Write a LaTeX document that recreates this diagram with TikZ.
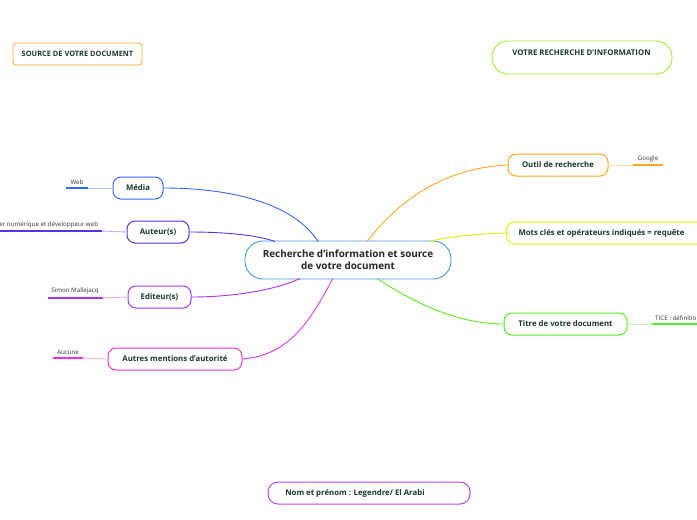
\documentclass[tikz,border=0pt]{standalone}
\usepackage{fontspec}
\setmainfont{Open Sans}
\begin{document}
\begin{tikzpicture}[x=1pt,y=-1pt,
  txt/.style={text=textc,font=\bfseries\fontsize{7.8}{9}\selectfont},
  topic/.style={draw=#1,line width=1pt,rounded corners=8pt,fill=white,inner sep=0pt,txt,minimum height=22pt},
  lab/.style={font=\fontsize{6.2}{7}\selectfont,text=black!80,inner sep=0pt,anchor=south},
  ul/.style={fill=#1,draw=none,inner sep=0pt,minimum height=2pt,outer sep=0pt},
  conn/.style={color=#1,line width=0.9pt}]
\definecolor{textc}{HTML}{17382E}
\definecolor{cblue}{HTML}{3D9AD9}
\definecolor{cmedia}{HTML}{3366FF}
\definecolor{cauteur}{HTML}{5533EE}
\definecolor{cedit}{HTML}{AA33EE}
\definecolor{cautres}{HTML}{EE33DD}
\definecolor{coutil}{HTML}{FFA522}
\definecolor{cmots}{HTML}{DDEE11}
\definecolor{ctitre}{HTML}{55EE22}
\definecolor{cvotre}{HTML}{99EE33}
\definecolor{cnom}{HTML}{BB44EE}
\useasboundingbox (0,0) rectangle (697,520);

% header boxes
\node[draw=coutil,line width=0.8pt,rounded corners=3pt,minimum width=129pt,minimum height=22pt,inner sep=0pt,
  text=textc,font=\bfseries\fontsize{7.4}{8}\selectfont] (src) at (77.5,54) {SOURCE DE VOTRE DOCUMENT};
\node[draw=cvotre,line width=0.9pt,rounded corners=16pt,minimum width=180pt,minimum height=33pt,inner sep=0pt] (votre) at (582,57.5) {};
\node[text=textc,font=\bfseries\fontsize{7.8}{8}\selectfont,inner sep=0pt] (votret) at (581.5,53) {VOTRE RECHERCHE D'INFORMATION};

% center
\node[draw=cblue,line width=0.9pt,rounded corners=18pt,minimum width=206pt,minimum height=38pt,fill=white,
  align=center,text=black!85,font=\bfseries\fontsize{9.9}{12.5}\selectfont,inner sep=0pt] (c) at (348,260)
  {Recherche d'information et source\\de votre document};

% left topics
\node[topic=cmedia,minimum width=50pt] (media) at (138,188) {Média};
\node[topic=cauteur,minimum width=62pt] (auteur) at (158,232) {Auteur(s)};
\node[topic=cedit,minimum width=63pt] (edit) at (159.5,297) {Editeur(s)};
\node[topic=cautres,minimum width=134pt] (autres) at (175,359) {Autres mentions d'autorité};

% right topics
\node[topic=coutil,minimum width=100pt] (outil) at (558,165) {Outil de recherche};
\node[topic=cmots,minimum width=200pt,anchor=west] (mots) at (506,233) {\hspace*{-10pt}Mots clés et opérateurs indiqués = requête};
\node[topic=ctitre,minimum width=123pt] (titre) at (565.5,324) {Titre de votre document};

% bottom
\node[topic=cnom,minimum width=202pt,rounded corners=10pt] (nom) at (369,493) {\hspace*{-28pt}Nom et prénom : Legendre/ El Arabi};

% connectors from center
\draw[conn=cmedia] (media.east) .. controls (235,188) and (295,205) .. (318,241.5);
\draw[conn=cauteur] (auteur.east) .. controls (230,232) and (260,236) .. (275,241.5);
\draw[conn=cedit] (edit.east) .. controls (240,297) and (280,288) .. (300,278.5);
\draw[conn=cautres] (autres.east) .. controls (295,355) and (315,310) .. (333,278.5);
\draw[conn=coutil] (outil.west) .. controls (440,168) and (395,205) .. (367,241.5);
\draw[conn=cmots] (mots.west) .. controls (480,234) and (450,236) .. (430,241.5);
\draw[conn=ctitre] (titre.west) .. controls (455,324) and (410,300) .. (377,278.5);

% leaves: underline bars
\node[ul=cmedia,minimum width=22pt] (webU) at (77,188) {};
\node[ul=cauteur,minimum width=102pt] (autU) at (51,231) {};
\node[ul=cedit,minimum width=55pt] (edU) at (75.5,298) {};
\node[ul=cautres,minimum width=30pt] (auU) at (68,358) {};
\node[ul=coutil,minimum width=30pt] (goU) at (648,165) {};
\node[ul=ctitre,minimum width=45pt] (tiU) at (674.5,324) {};

% leaf labels
\node[lab] (web) at (77,185) {Web};
\node[lab,anchor=south west] (autl) at (-4,228) {ller numérique et développeur web};
\node[lab] (edl) at (75,294.5) {Simon Mallejacq};
\node[lab] (aul) at (68,355) {Aucune};
\node[lab] (gol) at (648,162) {Google};
\node[lab,anchor=south west] (til) at (655,321) {TICE : définitio};

% leaf connectors
\draw[conn=cmedia!40] (webU.east) -- (media.west);
\draw[conn=cauteur!40] (autU.east) -- (auteur.west);
\draw[conn=cedit!40] (edU.east) -- (edit.west);
\draw[conn=cautres!40] (auU.east) -- (autres.west);
\draw[conn=coutil!40] (outil.east) -- (goU.west);
\draw[conn=ctitre!40] (titre.east) -- (tiU.west);
\end{tikzpicture}
\end{document}
